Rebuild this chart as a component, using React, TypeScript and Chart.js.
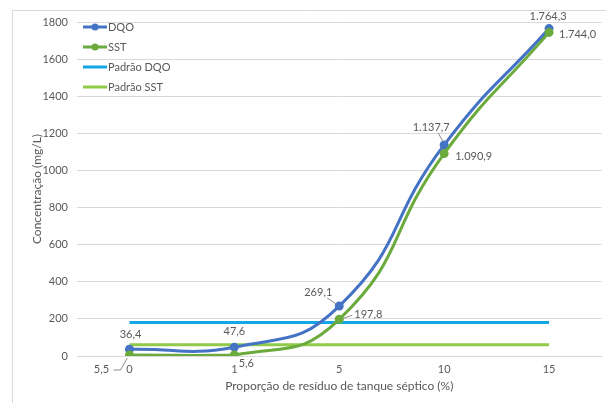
import React, { useEffect, useRef } from 'react';
import { Chart, registerables } from 'chart.js';

Chart.register(...registerables);

const categories = ['0', '1', '5', '10', '15'];
const dqoValues = [36.4, 47.6, 269.1, 1137.7, 1764.3];
const sstValues = [5.5, 5.6, 197.8, 1090.9, 1744.0];
const padraoDqoValues = [180, 180, 180, 180, 180];
const padraoSstValues = [60, 60, 60, 60, 60];
const yMin = 0;
const yMax = 1800;
const yStep = 200;

const seriesNames = ['DQO', 'SST', 'Padrão DQO', 'Padrão SST'];
const colors = ['#4472C4', '#6BAA3C', '#13A7E6', '#8FCB48'];

const FONT = 'Lato, "Open Sans", sans-serif';
const TEXT = '#595959';

type Place = { dx: number; dy: number; align: CanvasTextAlign; leader?: number[][] };
const dqoPlace: Place[] = [
  { dx: 1, dy: -15, align: 'center' },
  { dx: 0, dy: -16, align: 'center' },
  { dx: -21, dy: -14, align: 'center', leader: [[-12, -8], [-3, -2]] },
  { dx: -13, dy: -17, align: 'center', leader: [[-6, -12], [-1, -3]] },
  { dx: -1, dy: -12, align: 'center' },
];
const sstPlace: Place[] = [
  { dx: -28, dy: 14, align: 'center', leader: [[-16, 15], [-9, 15], [-2, 3]] },
  { dx: 12, dy: 8, align: 'center' },
  { dx: 15, dy: -5, align: 'left', leader: [[4, -1], [13, -4]] },
  { dx: 11, dy: 3, align: 'left' },
  { dx: 10, dy: 2, align: 'left' },
];

function fmt(v: number): string {
  const fixed = v.toFixed(1);
  const [intPart, dec] = fixed.split('.');
  const withSep = intPart.replace(/\B(?=(\d{3})+(?!\d))/g, '.');
  return withSep + ',' + dec;
}

const labelsPlugin = {
  id: 'pointLabels',
  afterDatasetsDraw(chart: any) {
    const ctx = chart.ctx;
    ctx.save();
    ctx.font = `11px ${FONT}`;
    ctx.fillStyle = TEXT;
    ctx.textBaseline = 'middle';
    const sets: [number, number[], Place[]][] = [
      [0, dqoValues, dqoPlace],
      [1, sstValues, sstPlace],
    ];
    for (const [di, vals, places] of sets) {
      const meta = chart.getDatasetMeta(di);
      meta.data.forEach((pt: any, i: number) => {
        const p = places[i];
        ctx.textAlign = p.align;
        ctx.fillText(fmt(vals[i]), pt.x + p.dx, pt.y + p.dy);
        if (p.leader) {
          ctx.strokeStyle = '#8c8c8c';
          ctx.lineWidth = 1;
          ctx.beginPath();
          p.leader.forEach((q, k) => {
            if (k === 0) ctx.moveTo(pt.x + q[0], pt.y + q[1]);
            else ctx.lineTo(pt.x + q[0], pt.y + q[1]);
          });
          ctx.stroke();
        }
      });
    }
    ctx.restore();
  },
};

const legendPlugin = {
  id: 'insideLegend',
  afterDraw(chart: any) {
    const ctx = chart.ctx;
    ctx.save();
    const x0 = 83;
    const x1 = 107;
    seriesNames.forEach((name, i) => {
      const y = 27 + i * 20;
      ctx.strokeStyle = colors[i];
      ctx.lineWidth = 3;
      ctx.beginPath();
      ctx.moveTo(x0, y);
      ctx.lineTo(x1, y);
      ctx.stroke();
      if (i < 2) {
        ctx.fillStyle = colors[i];
        ctx.beginPath();
        ctx.arc((x0 + x1) / 2, y, 3.5, 0, Math.PI * 2);
        ctx.fill();
      }
      ctx.fillStyle = TEXT;
      ctx.font = `11px ${FONT}`;
      ctx.textAlign = 'left';
      ctx.textBaseline = 'middle';
      ctx.fillText(name, x1 + 1, y);
    });
    ctx.restore();
  },
};

const framePlugin = {
  id: 'frame',
  beforeDraw(chart: any) {
    const ctx = chart.ctx;
    ctx.save();
    ctx.fillStyle = '#ffffff';
    ctx.fillRect(0, 0, chart.width, chart.height);
    ctx.strokeStyle = '#d9d9d9';
    ctx.lineWidth = 1;
    ctx.beginPath();
    ctx.moveTo(12.5, chart.height);
    ctx.lineTo(12.5, 10.5);
    ctx.lineTo(chart.width, 10.5);
    ctx.stroke();
    ctx.restore();
  },
};

export default function App() {
  const ref = useRef<HTMLCanvasElement>(null);

  useEffect(() => {
    if (!ref.current) return;
    const chart = new Chart(ref.current, {
      type: 'line',
      data: {
        labels: categories,
        datasets: [
          {
            label: seriesNames[0],
            data: dqoValues,
            borderColor: colors[0],
            backgroundColor: colors[0],
            borderWidth: 3,
            pointRadius: 4.5,
            pointBorderWidth: 0,
            tension: 0.5,
            order: 2,
          },
          {
            label: seriesNames[1],
            data: sstValues,
            borderColor: colors[1],
            backgroundColor: colors[1],
            borderWidth: 3,
            pointRadius: 4.5,
            pointBorderWidth: 0,
            tension: 0.5,
            order: 1,
          },
          {
            label: seriesNames[2],
            data: padraoDqoValues,
            borderColor: colors[2],
            backgroundColor: colors[2],
            borderWidth: 3,
            pointRadius: 0,
            order: 4,
          },
          {
            label: seriesNames[3],
            data: padraoSstValues,
            borderColor: colors[3],
            backgroundColor: colors[3],
            borderWidth: 3,
            pointRadius: 0,
            order: 3,
          },
        ],
      },
      options: {
        responsive: false,
        animation: false,
        layout: { padding: { left: 26, top: 22, right: 1, bottom: 10 } },
        plugins: {
          legend: { display: false },
          tooltip: { enabled: false },
        },
        scales: {
          x: {
            offset: true,
            grid: { display: false, drawTicks: false },
            border: { display: true, color: '#d9d9d9' },
            ticks: {
              color: TEXT,
              font: { family: FONT, size: 11 },
              padding: 7,
            },
            title: {
              display: true,
              text: 'Proporção de resíduo de tanque séptico (%)',
              color: TEXT,
              font: { family: FONT, size: 12 },
              padding: { top: 2, bottom: 0 },
            },
            afterFit(scale: any) {
              scale.height = 37;
            },
          },
          y: {
            min: yMin,
            max: yMax,
            grid: { color: '#d9d9d9', drawTicks: false },
            border: { display: false },
            ticks: {
              stepSize: yStep,
              color: TEXT,
              font: { family: FONT, size: 11 },
              padding: 9,
              callback: (v: any) => String(v),
            },
            title: {
              display: true,
              text: 'Concentração (mg/L)',
              color: TEXT,
              font: { family: FONT, size: 12 },
              padding: { top: 4, bottom: 0 },
            },
            afterFit(scale: any) {
              scale.width = 51;
            },
          },
        },
      },
      plugins: [framePlugin, labelsPlugin, legendPlugin],
    });
    return () => chart.destroy();
  }, []);

  return (
    <div style={{ position: 'absolute', left: 0, top: 0, width: 606, height: 403, background: '#fff' }}>
      <canvas ref={ref} width={606} height={403} />
    </div>
  );
}
